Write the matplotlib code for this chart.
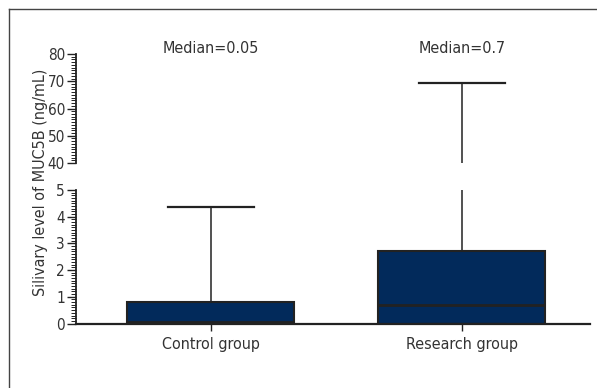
import matplotlib
matplotlib.use('Agg')
import matplotlib.pyplot as plt
from matplotlib.lines import Line2D
from matplotlib.ticker import MultipleLocator

plt.rcParams['font.family'] = ['DejaVu Sans']
plt.rcParams['font.stretch'] = 'condensed'

# box statistics per group
groups = ['Control group', 'Research group']
medians = [0.05, 0.7]
q1 = [0.0, 0.0]
q3 = [0.82, 2.72]
whis_lo = [0.0, 0.0]
whis_hi = [4.37, 69.5]
median_labels = ['Median=0.05', 'Median=0.7']

navy = '#022a5b'
ink = '#222222'
txt = '#333333'

stats = []
for i in range(len(groups)):
    stats.append({'med': medians[i], 'q1': q1[i], 'q3': q3[i],
                  'whislo': whis_lo[i], 'whishi': whis_hi[i],
                  'label': groups[i]})

fig = plt.figure(figsize=(5.97, 3.88), dpi=100)
ax_lo = fig.add_axes([0.1273, 0.1662, 0.861, 0.3441])
ax_hi = fig.add_axes([0.1273, 0.5799, 0.861, 0.2809])

for ax in (ax_lo, ax_hi):
    ax.bxp(stats, positions=[1, 2], widths=0.665, patch_artist=True,
           showfliers=False, capwidths=0.34,
           boxprops=dict(facecolor=navy, edgecolor=ink, linewidth=1.5),
           medianprops=dict(color=ink, linewidth=2),
           whiskerprops=dict(color=ink, linewidth=1.1),
           capprops=dict(color=ink, linewidth=1.6))
    ax.set_xlim(0.463, 2.51)
    ax.spines['top'].set_visible(False)
    ax.spines['right'].set_visible(False)
    ax.spines['left'].set_linewidth(1.3)
    ax.spines['left'].set_color(ink)
    ax.tick_params(axis='y', which='major', length=6.5, width=1, colors=ink,
                   labelsize=11, labelcolor=txt, pad=1.5)
    ax.tick_params(axis='y', which='minor', length=3.5, width=0.7, colors=ink)

ax_lo.set_ylim(0, 5)
ax_lo.yaxis.set_major_locator(MultipleLocator(1))
ax_lo.yaxis.set_minor_locator(MultipleLocator(0.1))
ax_lo.spines['bottom'].set_linewidth(1.6)
ax_lo.spines['bottom'].set_color(ink)
ax_lo.set_xticks([1, 2])
ax_lo.set_xticklabels(groups)
ax_lo.tick_params(axis='x', length=5, width=1, colors=ink, labelsize=11.5,
                  labelcolor=txt, pad=5)

ax_hi.set_ylim(40, 80)
ax_hi.yaxis.set_major_locator(MultipleLocator(10))
ax_hi.yaxis.set_minor_locator(MultipleLocator(1))
ax_hi.spines['bottom'].set_visible(False)
ax_hi.set_xticks([])

for i, lab in enumerate(median_labels):
    ax_hi.text(i + 1, 1.05, lab, transform=ax_hi.get_xaxis_transform(),
               ha='center', va='center', fontsize=11.5, color=txt)

fig.text(0.068, 0.53, 'Silivary level of MUC5B (ng/mL)', rotation=90,
         ha='center', va='center', fontsize=11.5, color=txt)

# outer frame, left and top edges
fig.add_artist(Line2D([8.5 / 597, 8.5 / 597], [0, 1 - 8.5 / 388],
                      transform=fig.transFigure, color='#444444', lw=1))
fig.add_artist(Line2D([8.5 / 597, 1], [1 - 8.5 / 388, 1 - 8.5 / 388],
                      transform=fig.transFigure, color='#444444', lw=1))

fig.savefig('out.png', dpi=100)
